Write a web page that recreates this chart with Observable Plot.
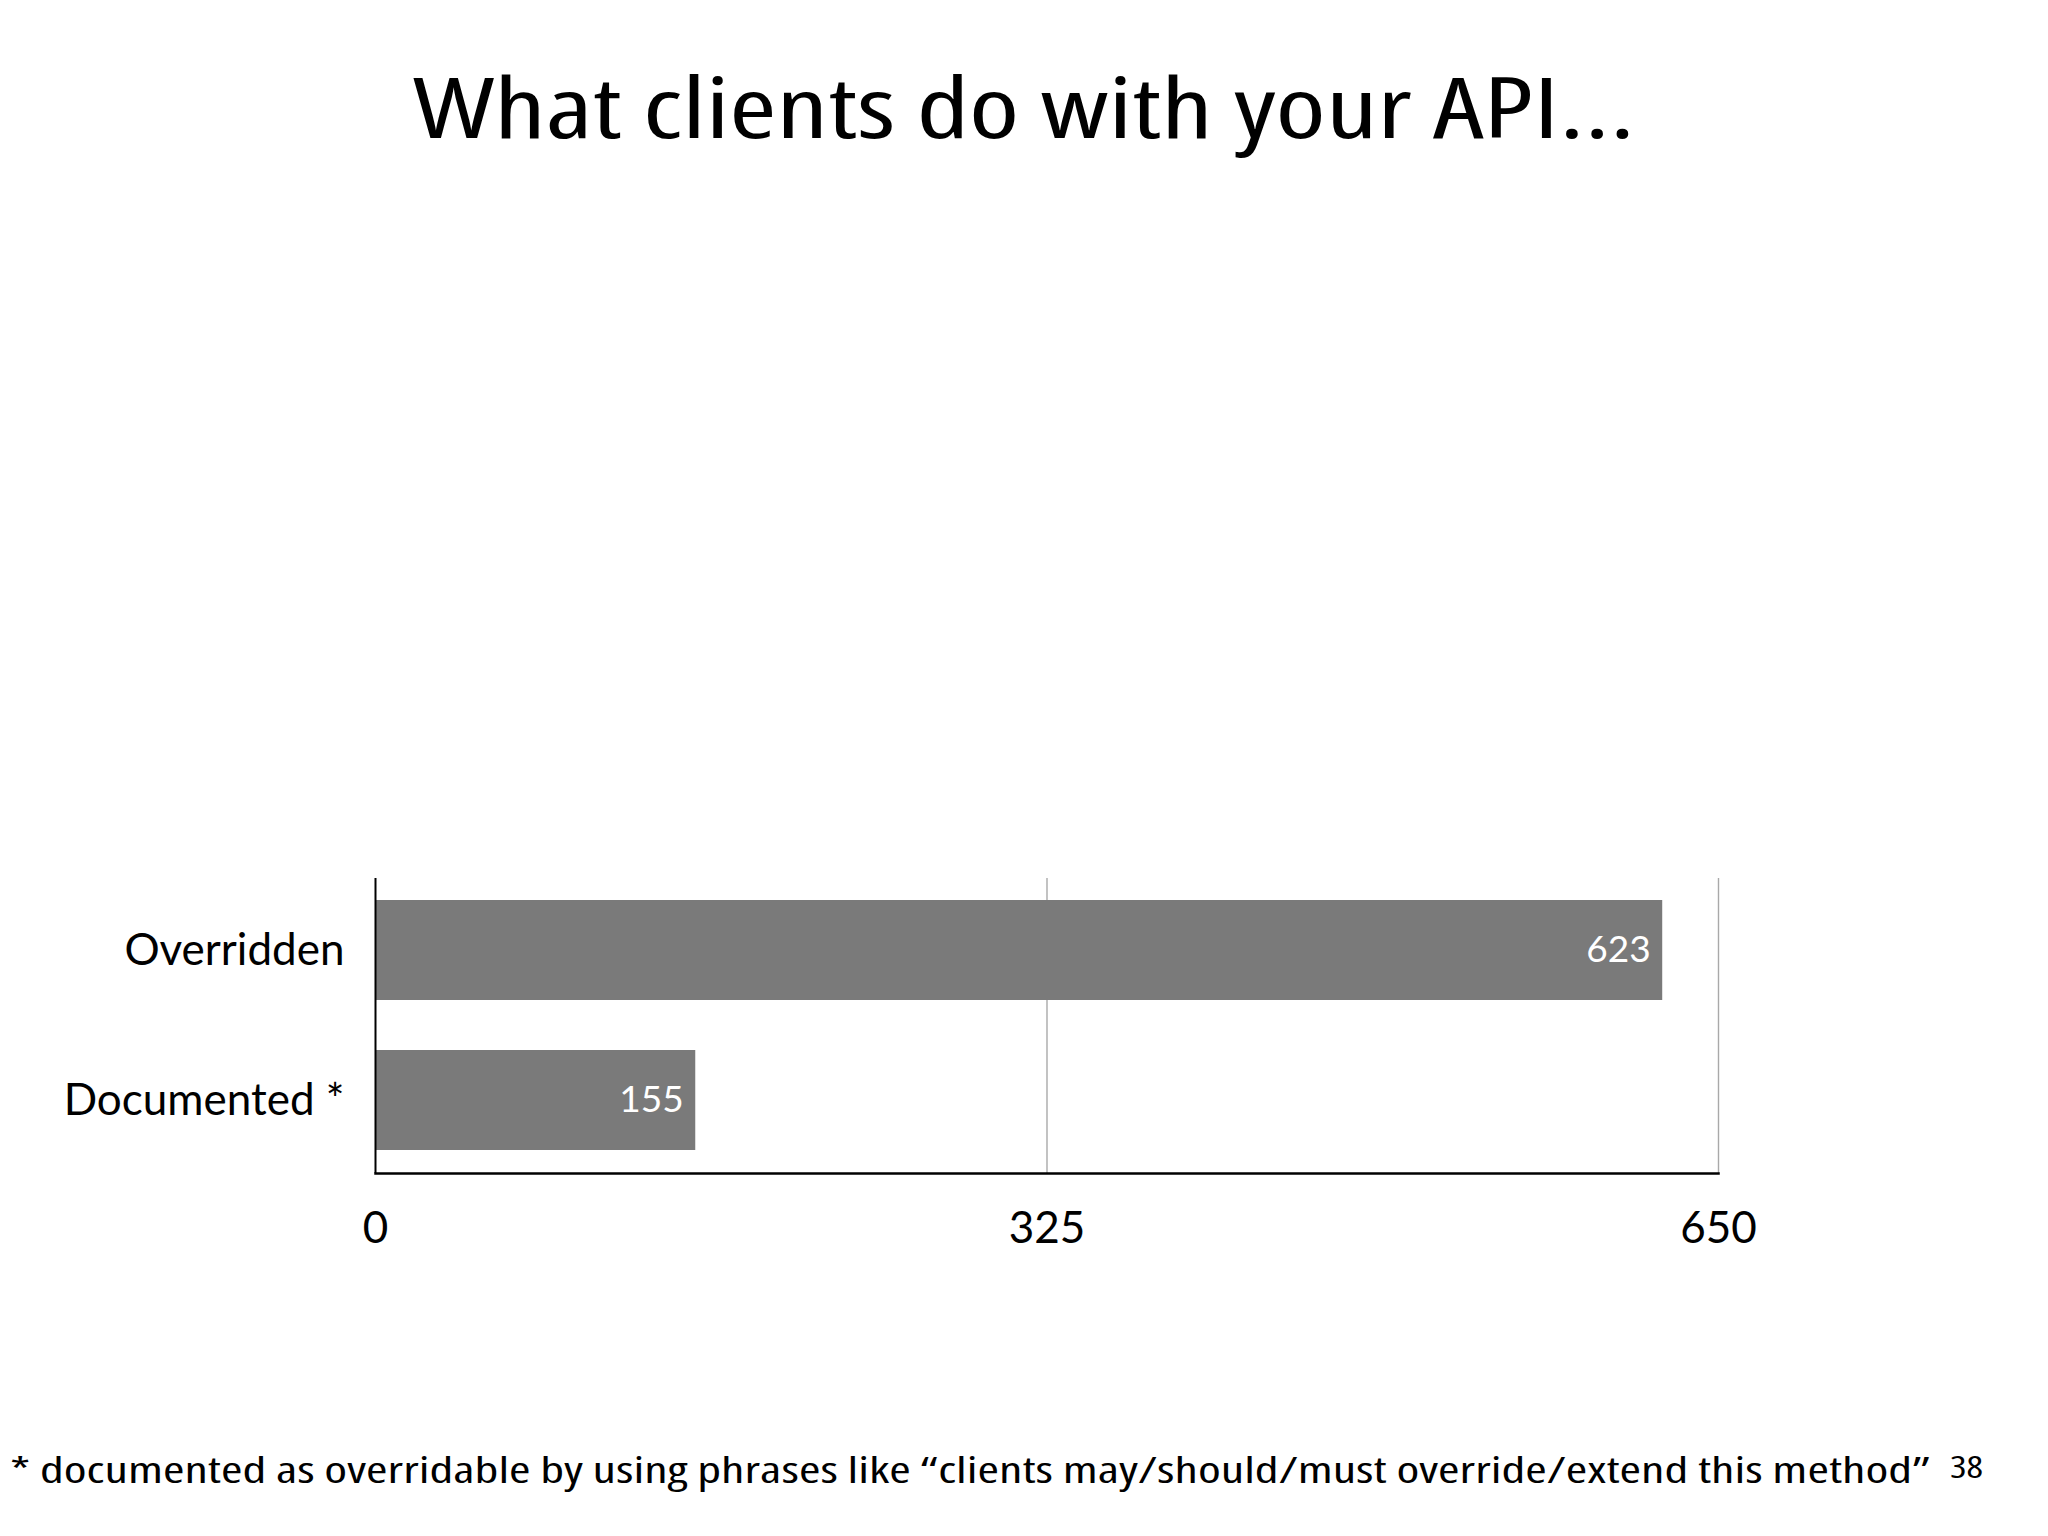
<!DOCTYPE html>
<html>
<head>
<meta charset="utf-8">
<script src="https://cdn.jsdelivr.net/npm/d3@7"></script>
<script src="https://cdn.jsdelivr.net/npm/@observablehq/plot@0.6"></script>
<style>
  html, body { margin: 0; padding: 0; background: #fff; }
  #page { position: relative; width: 2048px; height: 1536px; overflow: hidden; background: #fff; }
  .fit { position: absolute; white-space: nowrap; line-height: 1; font-family: "Open Sans", sans-serif; color: #000; font-stretch: 80%; }
  #title { font-size: 84px; top: 64px; left: 413px; }
  #note { font-size: 36px; top: 1452px; left: 10px; }
  #pagenum { font-size: 30px; top: 1452px; left: 1950px; }
  #chart { position: absolute; left: 0; top: 800px; }
</style>
</head>
<body>
<div id="page">
  <div id="title" class="fit" data-width="1222">What clients do with your API...</div>
  <div id="chart"></div>
  <div id="note" class="fit" data-width="1920">* documented as overridable by using phrases like “clients may/should/must override/extend this method”</div>
  <div id="pagenum" class="fit" data-width="33">38</div>
</div>
<script>
const categories = ["Overridden", "Documented *"];
const values = [623, 155];
const xTicks = [0, 325, 650];
const xMax = 650;

const data = categories.map((c, i) => ({category: c, value: values[i]}));

const chart = Plot.plot({
  width: 2048,
  height: 480,
  marginTop: 78,
  marginBottom: 107,
  marginLeft: 375,
  marginRight: 330,
  style: {fontFamily: "Lato, sans-serif", fontSize: "44px", color: "#000", background: "transparent", overflow: "visible"},
  x: {domain: [0, xMax], label: null},
  y: {domain: categories, paddingInner: 0.33, paddingOuter: 0.145, label: null},
  marks: [
    Plot.ruleX(xTicks.slice(1), {stroke: "#a9a9a9", strokeWidth: 1.4}),
    Plot.barX(data, {x: "value", y: "category", fill: "#7a7a7a", ariaLabel: "bars"}),
    Plot.text(data, {x: "value", y: "category", text: d => String(d.value), textAnchor: "end", dx: -12, fill: "#fff", fontSize: 37, ariaLabel: "values"}),
    Plot.ruleX([0], {stroke: "#000", strokeWidth: 2}),
    Plot.frame({anchor: "bottom", stroke: "#000", strokeWidth: 2.5}),
    Plot.axisX(xTicks, {tickSize: 0, tickPadding: 38, fontSize: 44, label: null, fill: "#000"}),
    Plot.axisY({tickSize: 0, tickPadding: 31, fontSize: 44, label: null, fill: "#000"})
  ]
});
document.getElementById("chart").appendChild(chart);

chart.querySelectorAll('g[aria-label="bars"]').forEach(g => {
  g.style.filter = "drop-shadow(3px 3px 4px rgba(0,0,0,0.4))";
});
chart.querySelectorAll('g[aria-label="values"]').forEach(g => {
  g.style.filter = "drop-shadow(1px 2px 1.5px rgba(0,0,0,0.9))";
});

function fitAll() {
  document.querySelectorAll(".fit").forEach(el => {
    el.style.transform = "none";
    const w = el.getBoundingClientRect().width;
    const target = +el.dataset.width;
    el.style.transformOrigin = "left top";
    el.style.transform = `scaleX(${target / w})`;
  });
}
fitAll();
if (document.fonts && document.fonts.ready) document.fonts.ready.then(fitAll);
</script>
</body>
</html>
